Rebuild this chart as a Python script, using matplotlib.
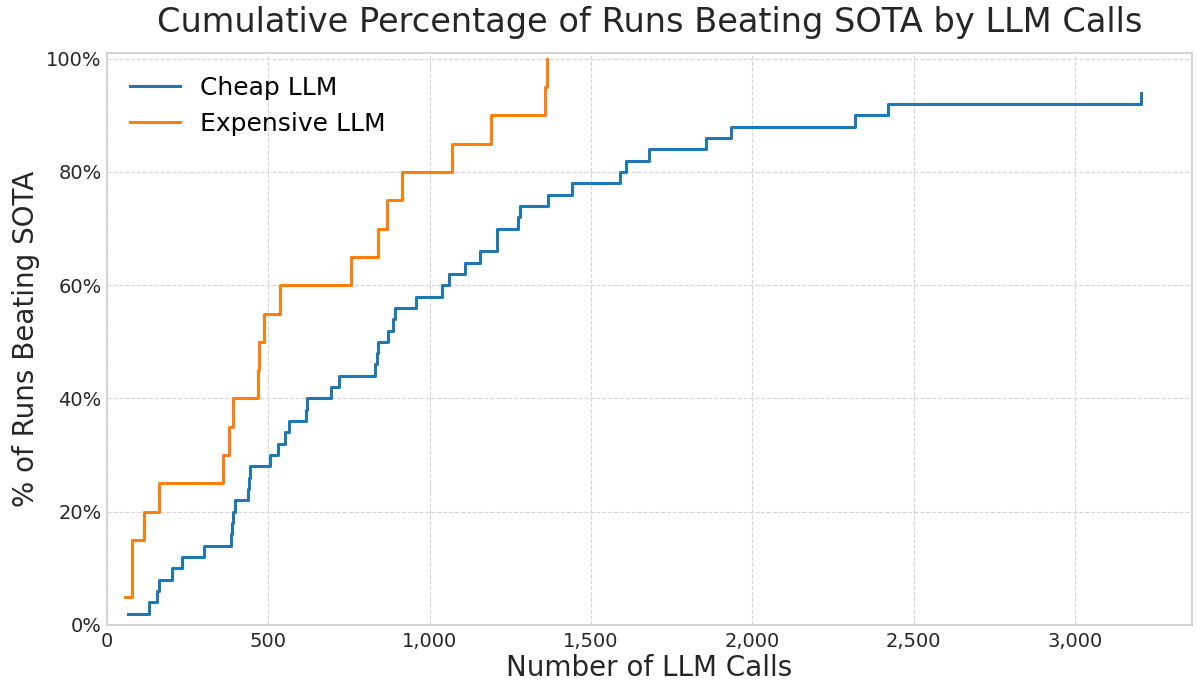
import matplotlib
matplotlib.use("Agg")
import matplotlib.pyplot as plt
from matplotlib.ticker import FuncFormatter, MultipleLocator
import numpy as np

# LLM calls at which each successful run beat SOTA (sorted)
cheap_calls = [66, 130, 156, 161, 200, 231, 302, 384, 388, 389, 397, 438, 439, 443,
               505, 531, 552, 564, 618, 620, 694, 720, 831, 836, 839, 872, 886, 894,
               958, 1037, 1061, 1108, 1156, 1208, 1208, 1275, 1280, 1368, 1442, 1590,
               1608, 1680, 1856, 1934, 2319, 2420, 3205]
cheap_total_runs = 50

expensive_calls = [56, 76, 77, 116, 162, 361, 378, 392, 469, 472, 487, 536, 756, 841,
                   867, 913, 1068, 1189, 1358, 1365]
expensive_total_runs = 20

series_names = ["Cheap LLM", "Expensive LLM"]
colors = ["#1f77b4", "#ff7f0e"]

plt.rcParams['font.family'] = ['DejaVu Sans']

fig = plt.figure(figsize=(11.97, 6.85), dpi=100)
ax = fig.add_axes([107/1197, 1 - 625/685, (1192-107)/1197, (625-53)/685])

for calls, total, name, c in [(cheap_calls, cheap_total_runs, series_names[0], colors[0]),
                              (expensive_calls, expensive_total_runs, series_names[1], colors[1])]:
    x = np.array(calls)
    y = np.arange(1, len(x) + 1) / total * 100
    ax.step(x, y, where='post', color=c, linewidth=2.2, label=name)

ax.set_xlim(left=0)
ax.set_ylim(0, 101)
ax.yaxis.set_major_locator(MultipleLocator(20))
ax.yaxis.set_major_formatter(FuncFormatter(lambda v, p: f"{v:.0f}%"))
ax.xaxis.set_major_formatter(FuncFormatter(lambda v, p: f"{v:,.0f}"))

ax.grid(True, linestyle='--', color='#d5d5d5', linewidth=0.8)
for s in ax.spines.values():
    s.set_color('#cccccc')
    s.set_linewidth(1.2)
ax.tick_params(axis='both', length=0, labelsize=14, colors='#262626')
ax.tick_params(axis='y', pad=4)
ax.tick_params(axis='x', pad=5)

ax.set_title("Cumulative Percentage of Runs Beating SOTA by LLM Calls", fontsize=24.2,
             color='#262626', pad=15)
ax.set_xlabel("Number of LLM Calls", fontsize=20, color='#262626', labelpad=2)
ax.set_ylabel("% of Runs Beating SOTA", fontsize=20, color='#262626', labelpad=4)

ax.legend(loc='upper left', fontsize=18, frameon=False)

fig.savefig("out.png", dpi=100)
